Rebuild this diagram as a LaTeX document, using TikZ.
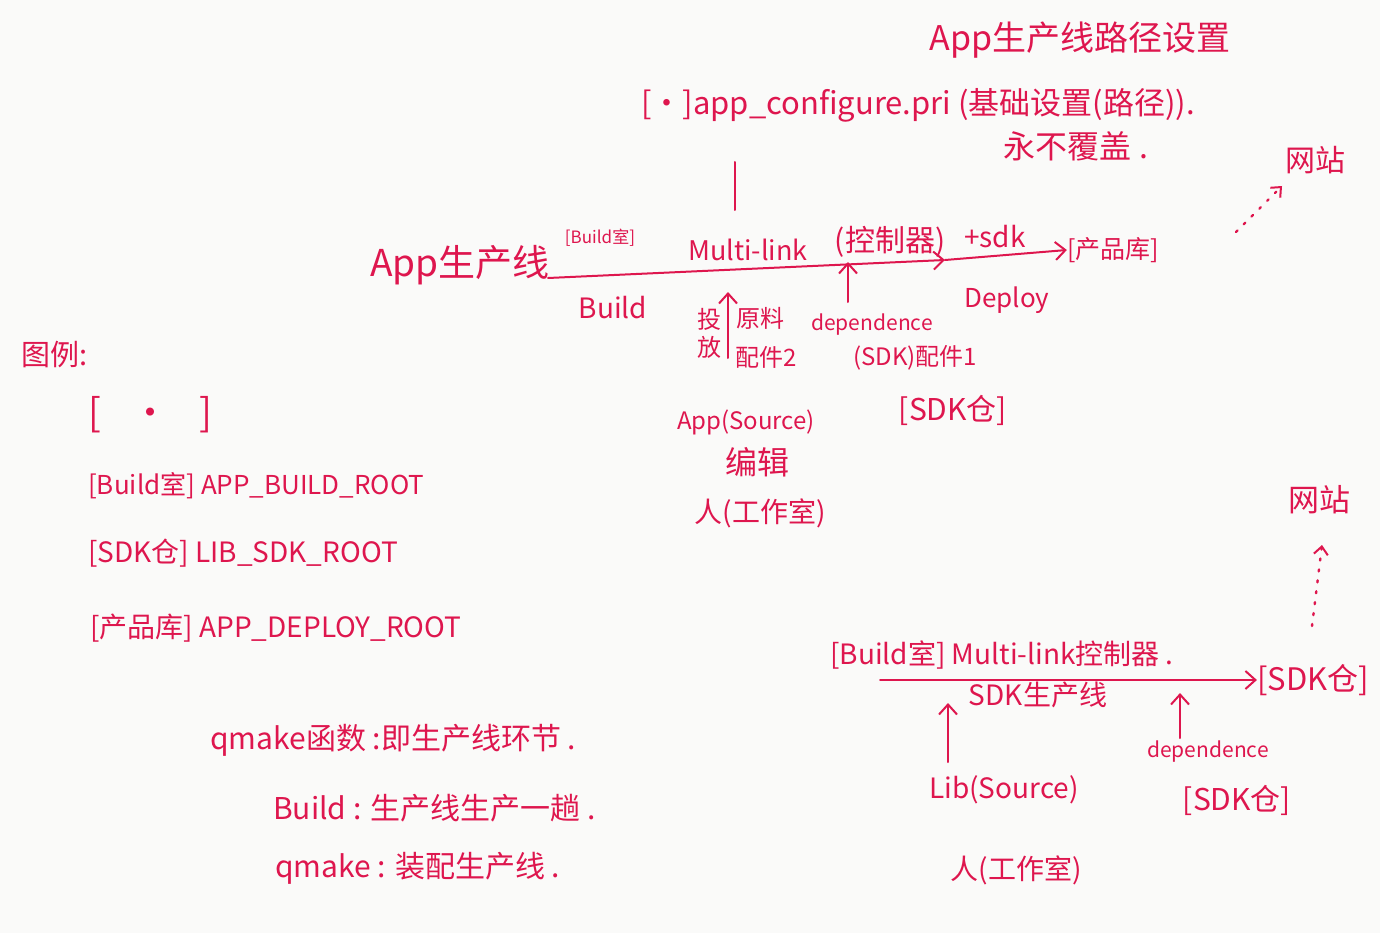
\documentclass[tikz,border=0pt]{standalone}
\usepackage{fontspec}
\setmainfont{Noto Sans CJK SC}
\usetikzlibrary{arrows.meta}
\definecolor{ink}{RGB}{222,22,78}
\definecolor{paper}{RGB}{250,250,249}
\newcommand\fsz[1]{\fontsize{#1}{#1}\selectfont}
\tikzset{
  txt/.style={text=ink, inner sep=0pt, anchor=center},
  pen/.style={draw=ink, line width=2pt, line cap=round, line join=round},
  arr/.style={pen, -{Straight Barb[length=10pt,width=18pt,line width=2pt]}},
  dotarr/.style={pen, dash pattern=on 2pt off 9pt, line width=2.4pt, -{Straight Barb[length=8pt,width=14pt,line width=2pt]}},
}
\begin{document}
\begin{tikzpicture}[x=1pt,y=-1pt]
\fill[paper] (0,0) rectangle (1380,933);
\useasboundingbox (0,0) rectangle (1380,933);

% ---------- top: path settings ----------
\node[txt,font=\fsz{34}] (title) at (1080,40) {App生产线路径设置};
\node[txt,font=\fsz{31}] (cfg) at (918,105) {[•]app\_configure.pri (基础设置(路径)).};
\node[txt,font=\fsz{32}] (never) at (1076,146) {永不覆盖 .};
\coordinate (cfgbot) at (735,210);
\draw[pen] (735,162) coordinate (cfgtop) -- (cfgbot);

% ---------- App production line ----------
\node[txt,font=\fsz{37}] (appline) at (460,265) {App生产线};
\node[txt,font=\fsz{17}] (broom) at (600,238) {[Build室]};
\node[txt,font=\fsz{27}] (mlink) at (748,250) {Multi-link};
\node[txt,font=\fsz{30}] (ctrl) at (890,242) {(控制器)};
\node[txt,font=\fsz{28}] (sdkp) at (995,237) {+sdk};
\node[txt,font=\fsz{25}] (prod) at (1113,250) {[产品库]};
\coordinate (mA) at (548,278);
\coordinate (mM) at (945,260);
\draw[arr] (mA) -- (mM);
\draw[arr] (mM) -- (prod.west);

\node[txt,font=\fsz{28}] (build) at (613,308) {Build};
\node[txt,font=\fsz{24},align=center] (tf) at (709,333) {投\\[4pt]放};
\node[txt,font=\fsz{24}] (yl) at (760,318) {原料};
\node[txt,font=\fsz{24}] (pj2) at (766,357) {配件2};
\coordinate (tfbot) at (728,358);
\coordinate (tftop) at (728,292);
\draw[arr] (tfbot) -- (tftop);

\node[txt,font=\fsz{21}] (dep) at (872,325) {dependence};
\node[txt,font=\fsz{24}] (pj1) at (915,358) {(SDK)配件1};
\coordinate (depbot) at (848,302);
\coordinate (deptop) at (848,262);
\draw[arr] (depbot) -- (deptop);

\node[txt,font=\fsz{26}] (deploy) at (1007,300) {Deploy};
\node[txt,font=\fsz{30}] (sdk1) at (953,410) {[SDK仓]};

\node[txt,font=\fsz{24}] (appsrc) at (746,422) {App(Source)};
\node[txt,font=\fsz{32}] (edit) at (757,462) {编辑};
\node[txt,font=\fsz{28}] (man1) at (760,513) {人(工作室)};

\node[txt,font=\fsz{30}] (web1) at (1315,160) {网站};
\coordinate (w1a) at (1236,232);
\coordinate (w1b) at (1282,186);
\draw[dotarr] (w1a) -- (w1b);

% ---------- legend ----------
\node[txt,font=\fsz{29}] (legend) at (55,355) {图例:};
\node[txt,font=\fsz{38},anchor=west] (lg0) at (88,415) {[\hspace{0.8em}•\hspace{0.8em}]};
\node[txt,font=\fsz{26},anchor=west] (lg1) at (88,486) {[Build室] APP\_BUILD\_ROOT};
\node[txt,font=\fsz{28},anchor=west] (lg2) at (88,553) {[SDK仓] LIB\_SDK\_ROOT};
\node[txt,font=\fsz{28},anchor=west] (lg3) at (90,628) {[产品库] APP\_DEPLOY\_ROOT};

% ---------- notes ----------
\node[txt,font=\fsz{30},anchor=west] (n1) at (210,740) {qmake函数 :即生产线环节 .};
\node[txt,font=\fsz{30},anchor=west] (n2) at (273,808) {Build : 生产线生产一趟 .};
\node[txt,font=\fsz{30},anchor=west] (n3) at (275,868) {qmake : 装配生产线 .};

% ---------- SDK production line ----------
\node[txt,font=\fsz{28},anchor=west] (bline) at (830,655) {[Build室] Multi-link控制器 .};
\node[txt,font=\fsz{28}] (sdkline) at (1038,695) {SDK生产线};
\node[txt,font=\fsz{31}] (sdk2) at (1313,680) {[SDK仓]};
\coordinate (bA) at (880,680);
\draw[arr] (bA) -- (sdk2.west);

\node[txt,font=\fsz{28}] (libsrc) at (1004,790) {Lib(Source)};
\coordinate (libtop) at (948,703);
\draw[arr] (948,762) coordinate (libbot) -- (libtop);
\node[txt,font=\fsz{28}] (man2) at (1016,870) {人(工作室)};

\node[txt,font=\fsz{21}] (dep2) at (1208,752) {dependence};
\node[txt,font=\fsz{30}] (sdk3) at (1237,800) {[SDK仓]};
\coordinate (dep2top) at (1180,693);
\draw[arr] (1180,738) coordinate (dep2bot) -- (dep2top);

\node[txt,font=\fsz{31}] (web2) at (1319,500) {网站};
\coordinate (w2a) at (1312,626);
\coordinate (w2b) at (1322,545);
\draw[dotarr] (w2a) -- (w2b);
\end{tikzpicture}
\end{document}
